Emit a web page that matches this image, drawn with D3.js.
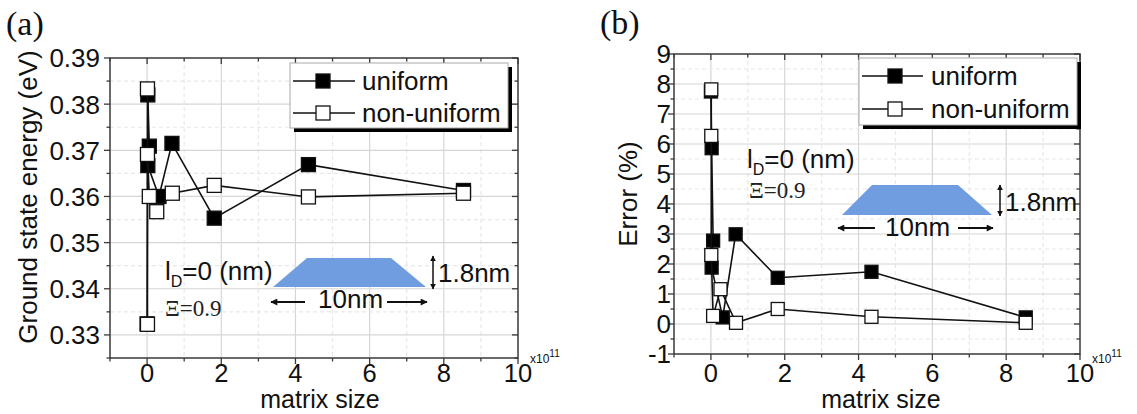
<!DOCTYPE html>
<html><head><meta charset="utf-8">
<script src="https://cdn.jsdelivr.net/npm/d3@7"></script>
<style>body{margin:0;background:#fff} svg{display:block}</style>
</head><body>
<svg id="c" width="1137" height="414"></svg>
<script>
// ---- data (matrix size in units of 1e11) ----
const seriesNames = ["uniform", "non-uniform"];
const matrixU = [0.0, 0.02, 0.06, 0.02, 0.32, 0.67, 1.81, 4.35, 8.53];
const matrixN = [0.01, 0.01, 0.01, 0.06, 0.26, 0.68, 1.81, 4.35, 8.53];
const energyU = [0.3324, 0.3820, 0.3709, 0.3667, 0.3600, 0.3715, 0.3553, 0.3669, 0.3613];
const energyN = [0.3323, 0.3833, 0.3691, 0.3600, 0.3567, 0.3607, 0.3624, 0.3599, 0.3607];
const errorU = [7.75, 5.86, 2.78, 1.88, 0.22, 2.99, 1.54, 1.74, 0.22];
const errorN = [7.82, 6.27, 2.30, 0.27, 1.16, 0.04, 0.50, 0.24, 0.04];
const xTicks = [0, 2, 4, 6, 8, 10];
const yTicksA = [0.33, 0.34, 0.35, 0.36, 0.37, 0.38, 0.39];
const yTicksB = [-1, 0, 1, 2, 3, 4, 5, 6, 7, 8, 9];

const svg = d3.select("#c");
const SANS = "'Liberation Sans', Arial, sans-serif";
const SERIF = "'Liberation Serif', 'Times New Roman', serif";
const FS = 26;

function panel(cfg) {
  const {L, R, T, B, yDom, yTicks, yMinor, yFmt, yVals, label, title, ms} = cfg;
  const x = d3.scaleLinear().domain([-1, 10]).range([L, R]);
  const y = d3.scaleLinear().domain(yDom).range([B, T]);
  const g = svg.append("g");

  const xMinor = d3.range(-1, 10.001, 1);
  const yMinorVals = d3.range(yDom[0], yDom[1] + 1e-9, yMinor).map(v => +v.toFixed(4));
  const isMajorX = v => xTicks.includes(v);
  const isMajorY = v => yTicks.some(t => Math.abs(t - v) < 1e-9);
  g.selectAll(".gx").data(xMinor.filter(v => v > -1 && v < 10)).join("line")
    .attr("x1", d => x(d)).attr("x2", d => x(d)).attr("y1", T).attr("y2", B)
    .attr("stroke", d => isMajorX(d) ? "#d6d6d6" : "#e8e8e8")
    .attr("stroke-width", 1.2)
    .attr("stroke-dasharray", d => isMajorX(d) ? null : "4,3");
  g.selectAll(".gy").data(yMinorVals.filter(v => v > yDom[0] + 1e-9 && v < yDom[1] - 1e-9)).join("line")
    .attr("x1", L).attr("x2", R).attr("y1", d => y(d)).attr("y2", d => y(d))
    .attr("stroke", d => isMajorY(d) ? "#d6d6d6" : "#e8e8e8")
    .attr("stroke-width", 1.2)
    .attr("stroke-dasharray", d => isMajorY(d) ? null : "4,3");

  g.append("rect").attr("x", L).attr("y", T).attr("width", R - L).attr("height", B - T)
    .attr("fill", "none").attr("stroke", "#3a3a3a").attr("stroke-width", 1.5);

  const tk = g.append("g").attr("stroke", "#3a3a3a").attr("stroke-width", 1.3);
  xMinor.forEach(v => {
    const len = isMajorX(v) ? 6 : 3.5;
    tk.append("line").attr("x1", x(v)).attr("x2", x(v)).attr("y1", B).attr("y2", B + len);
    tk.append("line").attr("x1", x(v)).attr("x2", x(v)).attr("y1", T).attr("y2", T + len);
  });
  yMinorVals.forEach(v => {
    const len = isMajorY(v) ? 6 : 3.5;
    tk.append("line").attr("x1", L).attr("x2", L - len).attr("y1", y(v)).attr("y2", y(v));
    tk.append("line").attr("x1", R).attr("x2", R - len).attr("y1", y(v)).attr("y2", y(v));
  });

  g.selectAll(".xl").data(xTicks).join("text")
    .attr("x", d => x(d)).attr("y", 382).attr("text-anchor", "middle")
    .attr("font-family", SANS).attr("font-size", 25.5).attr("fill", "#111").text(d => d);
  g.selectAll(".yl").data(yTicks).join("text")
    .attr("x", cfg.yLabX).attr("y", d => y(d)).attr("dy", "0.36em").attr("text-anchor", "end")
    .attr("font-family", SANS).attr("font-size", FS).attr("fill", "#111").text(yFmt);

  const ex = g.append("text").attr("x", R + 12).attr("y", 363).attr("font-family", SANS)
    .attr("font-size", 12).attr("fill", "#111");
  ex.append("tspan").text("x10");
  ex.append("tspan").attr("dy", -6).attr("font-size", 10).text("11");

  g.append("text").attr("x", cfg.xTitleX).attr("y", 408).attr("text-anchor", "middle")
    .attr("font-family", SANS).attr("font-size", 25).attr("fill", "#111").text("matrix size");
  g.append("text").attr("transform", `translate(${cfg.yTitleX},${cfg.yTitleY}) rotate(-90)`)
    .attr("text-anchor", "middle").attr("font-family", SANS).attr("font-size", FS)
    .attr("fill", "#111").text(title);

  g.append("text").attr("x", cfg.labX).attr("y", cfg.labY).attr("font-family", SERIF)
    .attr("font-size", 34).attr("fill", "#111").text(label);

  const A = cfg.ann;
  const ax = v => L + v, ay = v => T + v;
  g.append("polygon").attr("points", A.trap.map(p => [ax(p[0]), ay(p[1])].join(",")).join(" "))
    .attr("fill", "#6f9de0");
  const defsId = "ah" + label.replace(/\W/g, "");
  const defs = svg.append("defs");
  defs.append("marker").attr("id", defsId).attr("viewBox", "0 0 10 10").attr("refX", 9).attr("refY", 5)
    .attr("markerWidth", 11).attr("markerHeight", 7).attr("markerUnits", "userSpaceOnUse")
    .attr("orient", "auto").append("path").attr("d", "M0,0 L10,5 L0,10 z").attr("fill", "#111");
  defs.append("marker").attr("id", defsId + "s").attr("viewBox", "0 0 10 10").attr("refX", 9).attr("refY", 5)
    .attr("markerWidth", 6).attr("markerHeight", 6).attr("markerUnits", "userSpaceOnUse")
    .attr("orient", "auto-start-reverse").append("path").attr("d", "M0,0 L10,5 L0,10 z").attr("fill", "#111");
  g.append("line").attr("x1", ax(A.vx)).attr("x2", ax(A.vx)).attr("y1", ay(A.vy0)).attr("y2", ay(A.vy1))
    .attr("stroke", "#111").attr("stroke-width", 1.5)
    .attr("marker-start", `url(#${defsId}s)`).attr("marker-end", `url(#${defsId}s)`);
  g.append("text").attr("x", ax(A.vx + 5)).attr("y", ay(A.hnmY)).attr("font-family", SANS)
    .attr("font-size", FS).attr("fill", "#111").text("1.8nm");
  g.append("line").attr("x1", ax(A.la[1])).attr("x2", ax(A.la[0])).attr("y1", ay(A.ay)).attr("y2", ay(A.ay))
    .attr("stroke", "#111").attr("stroke-width", 2).attr("marker-end", `url(#${defsId})`);
  g.append("line").attr("x1", ax(A.ra[0])).attr("x2", ax(A.ra[1])).attr("y1", ay(A.ay)).attr("y2", ay(A.ay))
    .attr("stroke", "#111").attr("stroke-width", 2).attr("marker-end", `url(#${defsId})`);
  g.append("text").attr("x", ax(A.wX)).attr("y", ay(A.wY)).attr("font-family", SANS)
    .attr("font-size", FS).attr("fill", "#111").text("10nm");
  const ld = g.append("text").attr("x", ax(A.idX)).attr("y", ay(A.idY)).attr("font-family", SANS)
    .attr("font-size", FS).attr("fill", "#111");
  ld.append("tspan").text("l");
  ld.append("tspan").attr("dy", 7).attr("font-size", 16).text("D");
  ld.append("tspan").attr("dy", -7).text("=0 (nm)");
  g.append("text").attr("x", ax(A.xiX)).attr("y", ay(A.xiY)).attr("font-family", SERIF)
    .attr("font-size", 23).attr("fill", "#222").text("\u039E=0.9");

  const line = d3.line().x(d => x(d[0])).y(d => y(d[1]));
  const sets = [
    {pts: d3.zip(matrixU, yVals[0]), fill: "#000"},
    {pts: d3.zip(matrixN, yVals[1]), fill: "#fff"}
  ];
  sets.forEach(s => {
    g.append("path").attr("d", line(s.pts)).attr("fill", "none").attr("stroke", "#111").attr("stroke-width", 1.6);
    g.selectAll(null).data(s.pts).join("rect")
      .attr("x", d => x(d[0]) - ms / 2).attr("y", d => y(d[1]) - ms / 2)
      .attr("width", ms).attr("height", ms)
      .attr("fill", s.fill).attr("stroke", "#111").attr("stroke-width", 1.3);
  });

  const Lg = cfg.leg;
  g.append("rect").attr("x", ax(Lg.x) + 4).attr("y", ay(Lg.y) + 4).attr("width", Lg.w).attr("height", Lg.h)
    .attr("fill", "#000");
  g.append("rect").attr("x", ax(Lg.x)).attr("y", ay(Lg.y)).attr("width", Lg.w).attr("height", Lg.h)
    .attr("fill", "#fff").attr("stroke", "#aaa").attr("stroke-width", 1);
  seriesNames.forEach((nm, i) => {
    const ry = ay(Lg.rows[i]);
    g.append("line").attr("x1", ax(Lg.l0)).attr("x2", ax(Lg.l1)).attr("y1", ry).attr("y2", ry)
      .attr("stroke", "#111").attr("stroke-width", 1.6);
    g.append("rect").attr("x", ax(Lg.m) - 7).attr("y", ry - 7).attr("width", 14).attr("height", 14)
      .attr("fill", sets[i].fill).attr("stroke", "#111").attr("stroke-width", 1.3);
    g.append("text").attr("x", ax(Lg.t)).attr("y", ry).attr("dy", "0.36em").attr("font-family", SANS)
      .attr("font-size", FS).attr("fill", "#111").text(nm);
  });
}

panel({
  L: 110, R: 518, T: 58, B: 358, yDom: [0.325, 0.39], yTicks: yTicksA, yMinor: 0.005,
  yFmt: d3.format(".2f"), yVals: [energyU, energyN], label: "(a)",
  title: "Ground state energy (eV)", ms: 14, yLabX: 100, xTitleX: 320, yTitleX: 37, yTitleY: 197,
  labX: 6, labY: 35,
  ann: {trap: [[163, 229], [197, 200], [281, 200], [316, 229]], vx: 323, vy0: 198, vy1: 231, hnmY: 224,
        la: [161, 195], ra: [277, 317], ay: 244, wX: 208, wY: 250, idX: 55, idY: 222, xiX: 55, xiY: 258},
  leg: {x: 180, y: 5, w: 218, h: 65, rows: [23, 55], l0: 183, l1: 245, m: 213, t: 252}
});
panel({
  L: 674, R: 1080, T: 54, B: 354, yDom: [-1, 9], yTicks: yTicksB, yMinor: 0.5,
  yFmt: d => d, yVals: [errorU, errorN], label: "(b)",
  title: "Error (%)", ms: 13, yLabX: 671, xTitleX: 881, yTitleX: 637, yTitleY: 194,
  labX: 600, labY: 34,
  ann: {trap: [[168, 161], [198, 131], [284, 131], [318, 161]], vx: 326, vy0: 131, vy1: 162, hnmY: 157,
        la: [164, 201], ra: [284, 319], ay: 174, wX: 211, wY: 182, idX: 73, idY: 114, xiX: 75, xiY: 144},
  leg: {x: 185, y: 4, w: 218, h: 67, rows: [22, 55], l0: 188, l1: 249, m: 221, t: 257}
});
</script>
</body></html>
